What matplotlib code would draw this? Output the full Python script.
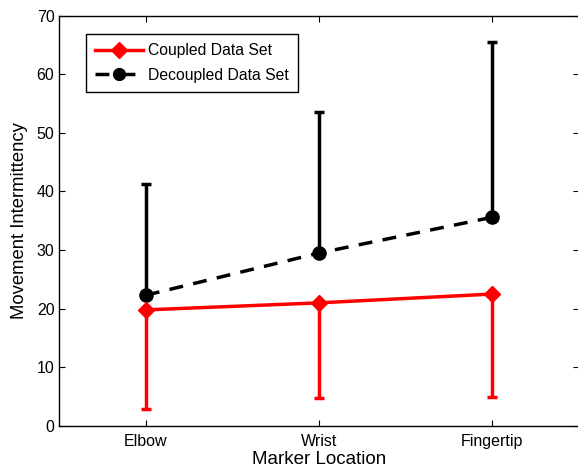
import matplotlib
matplotlib.use("Agg")
import matplotlib.pyplot as plt
from matplotlib.lines import Line2D
import numpy as np

plt.rcParams['font.family'] = ['Liberation Sans', 'DejaVu Sans']

categories = ["Elbow", "Wrist", "Fingertip"]
coupled_mean = [19.8, 21.0, 22.5]
coupled_lower = [2.9, 4.8, 4.9]
decoupled_mean = [22.3, 29.5, 35.6]
decoupled_upper = [41.3, 53.5, 65.4]

x = np.arange(1, len(categories) + 1)

fig = plt.figure(figsize=(5.78, 4.70), dpi=100)
W, H = 578, 470
left, right, top, bottom = 59.25, 579.0, 15.5, 426
ax = fig.add_axes([left / W, 1 - bottom / H, (right - left) / W, (bottom - top) / H])

cm = np.array(coupled_mean)
cl = np.array(coupled_lower)
dm = np.array(decoupled_mean)
du = np.array(decoupled_upper)

ax.errorbar(x, dm, yerr=[np.zeros_like(dm), du - dm], color='black', lw=2.5, ls='--',
            dashes=(4, 3), marker='o', markersize=9.5, elinewidth=2.5, capsize=3.5,
            capthick=2.5, zorder=2)
ax.errorbar(x, cm, yerr=[cm - cl, np.zeros_like(cm)], color='red', lw=2.5,
            marker='D', markersize=8.5, elinewidth=2.5, capsize=3.5, capthick=2.5,
            zorder=3)

ax.set_xlim(0.5, 3.5)
ax.set_ylim(0, 70)
ax.set_xticks(x)
ax.set_xticklabels(categories)
ax.set_yticks(np.arange(0, 71, 10))
ax.tick_params(direction='in', length=4, labelsize=11.5, width=0.8, top=True, right=True)
ax.tick_params(axis='x', pad=6)
ax.set_xlabel('Marker Location', fontsize=13.5, labelpad=1)
ax.set_ylabel('Movement Intermittency', fontsize=13.3, labelpad=6)
for s in ax.spines.values():
    s.set_linewidth(1.0)

handles = [
    Line2D([], [], color='red', lw=2.5, marker='D', markersize=8),
    Line2D([], [], color='black', lw=2.5, ls='--', dashes=(4, 3.5), marker='o', markersize=8.5),
]
labels = ['Coupled Data Set', 'Decoupled Data Set']
leg = ax.legend(handles, labels, loc='upper left',
                bbox_to_anchor=((86 - left) / (right - left), 1 - (34 - top) / (bottom - top)),
                fontsize=11.3, frameon=True, fancybox=False, edgecolor='black',
                framealpha=1, borderaxespad=0, handlelength=3.05, borderpad=0.6,
                labelspacing=0.6, handletextpad=0.3)
leg.get_frame().set_linewidth(1.0)

fig.savefig('out.png', dpi=100)
